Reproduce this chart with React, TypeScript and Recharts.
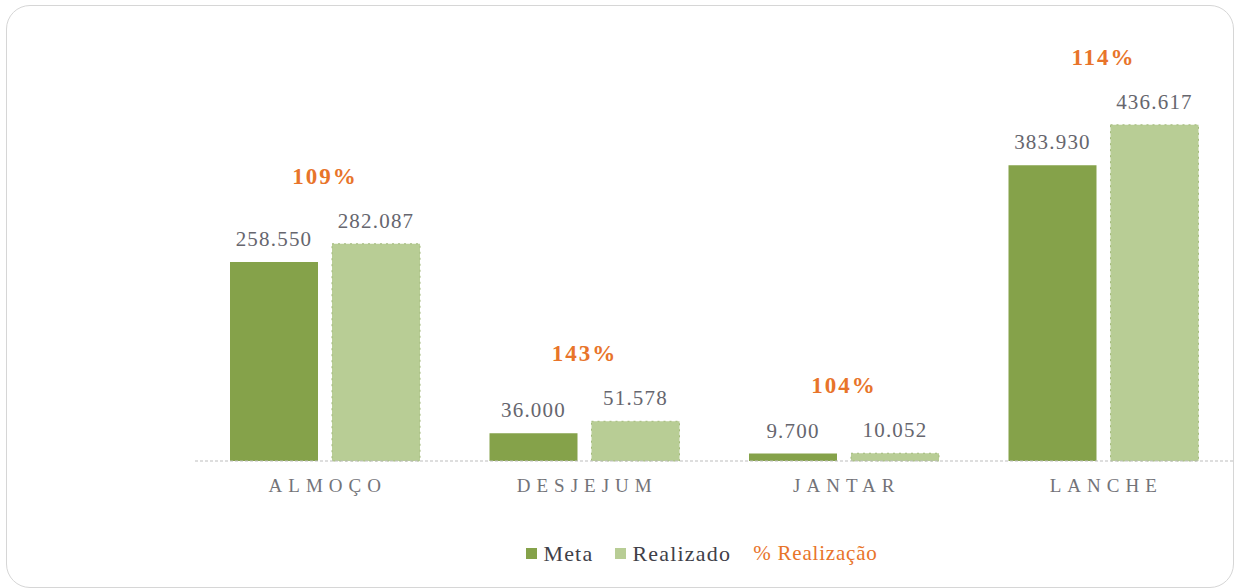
import React from 'react';
import { BarChart, Bar, XAxis, YAxis, Legend, LabelList } from 'recharts';

const categories = ['ALMOÇO', 'DESJEJUM', 'JANTAR', 'LANCHE'];
const metaValues = [258550, 36000, 9700, 383930];
const realizadoValues = [282087, 51578, 10052, 436617];
const pctLabels = ['109%', '143%', '104%', '114%'];

const data = categories.map((c, i) => ({
  category: c,
  meta: metaValues[i],
  realizado: realizadoValues[i],
  pct: pctLabels[i],
}));

const META_COLOR = '#85a24a';
const REAL_COLOR = '#b8cd95';
const ORANGE = '#e8742a';
const SERIF = 'Liberation Serif';

const fmt = (v: any) => String(v).replace(/\B(?=(\d{3})+(?!\d))/g, '.');

const ValueLabel = (props: any) => {
  const { x, y, width, value } = props;
  return (
    <text
      x={Number(x) + Number(width) / 2}
      y={Number(y) - 16}
      textAnchor="middle"
      fill="#66666e"
      style={{ fontFamily: SERIF, fontSize: 21, letterSpacing: 1.2 }}
    >
      {fmt(value)}
    </text>
  );
};

const PctLabel = (props: any) => {
  const { x, y, value } = props;
  return (
    <text
      x={Number(x) - 7}
      y={Number(y) - 60}
      textAnchor="middle"
      fill={ORANGE}
      style={{ fontFamily: SERIF, fontWeight: 'bold', fontSize: 23, letterSpacing: 2 }}
    >
      {value}
    </text>
  );
};

const LegendContent = () => (
  <div
    style={{
      height: 77,
      boxSizing: 'border-box',
      paddingTop: 8,
      display: 'flex',
      alignItems: 'center',
      justifyContent: 'center',
      paddingRight: 24,
      fontFamily: SERIF,
      fontSize: 22,
      letterSpacing: 1.2,
      color: '#404048',
    }}
  >
    <span style={{ display: 'inline-flex', alignItems: 'center', marginRight: 22 }}>
      <span style={{ width: 11, height: 11, background: META_COLOR, display: 'inline-block', marginRight: 6 }} />
      Meta
    </span>
    <span style={{ display: 'inline-flex', alignItems: 'center', marginRight: 22 }}>
      <span style={{ width: 11, height: 11, background: REAL_COLOR, display: 'inline-block', marginRight: 6 }} />
      Realizado
    </span>
    <span style={{ color: ORANGE, fontSize: 21, letterSpacing: 0.8 }}>% Realização</span>
  </div>
);

const CategoryTick = (props: any) => {
  const { x, y, payload } = props;
  return (
    <text
      x={Number(x) + 3}
      y={Number(y) + 13}
      textAnchor="middle"
      fill="#737378"
      style={{ fontFamily: SERIF, fontSize: 19, letterSpacing: 6 }}
    >
      {payload.value}
    </text>
  );
};

export default function App() {
  return (
    <div style={{ position: 'absolute', left: 0, top: 0, width: 1241, height: 588, background: '#fff' }}>
      <div
        style={{
          position: 'absolute',
          left: 6,
          top: 5,
          width: 1228,
          height: 583,
          boxSizing: 'border-box',
          border: '1.5px solid #d6d6d6',
          borderRadius: 24,
        }}
      />
      <div style={{ position: 'absolute', left: 0, top: 0 }}>
        <BarChart
          width={1241}
          height={588}
          data={data}
          margin={{ top: 76, right: 8, bottom: 0, left: 195 }}
          barCategoryGap={35}
          barGap={14}
        >
          <XAxis
            dataKey="category"
            height={50}
            tickSize={0}
            tickMargin={18}
            axisLine={{ stroke: '#bdbdbd', strokeDasharray: '3 2' }}
            tick={<CategoryTick />}
          />
          <YAxis hide domain={[0, 500000]} />
          <Legend verticalAlign="bottom" content={<LegendContent />} />
          <Bar dataKey="meta" name="Meta" fill={META_COLOR} isAnimationActive={false}>
            <LabelList dataKey="meta" content={<ValueLabel />} />
          </Bar>
          <Bar
            dataKey="realizado"
            name="Realizado"
            fill={REAL_COLOR}
            stroke="#a3ba7c"
            strokeDasharray="2 4"
            strokeWidth={1}
            isAnimationActive={false}
          >
            <LabelList dataKey="realizado" content={<ValueLabel />} />
            <LabelList dataKey="pct" content={<PctLabel />} />
          </Bar>
        </BarChart>
      </div>
    </div>
  );
}
